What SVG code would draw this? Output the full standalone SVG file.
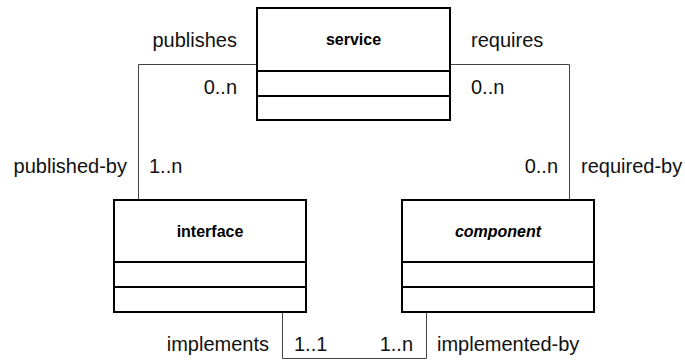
<svg xmlns="http://www.w3.org/2000/svg" width="685" height="360" viewBox="0 0 685 360">
  <style>
    .box { fill: #ffffff; stroke: #000000; stroke-width: 2; }
    .div { stroke: #000000; stroke-width: 2; }
    .conn { fill: none; stroke: #444444; stroke-width: 1; }
    .name { font-family: "Liberation Sans", Arial, sans-serif; font-size: 16px; font-weight: bold; fill: #000000; text-anchor: middle; }
    .label { font-family: "Liberation Sans", Arial, sans-serif; font-size: 20px; fill: #111111; }
    .end { text-anchor: end; }
  </style>

  <!-- associations between the classes -->
  <g id="connectors">
    <polyline class="conn" points="257,64.5 138.5,64.5 138.5,200"/>
    <polyline class="conn" points="450,64.5 569.5,64.5 569.5,200"/>
    <polyline class="conn" points="282.5,312 282.5,358.5 426.5,358.5 426.5,312"/>
  </g>

  <g id="service">
    <rect class="box" x="257" y="8" width="193" height="112"/>
    <line class="div" x1="257" y1="71" x2="450" y2="71"/>
    <line class="div" x1="257" y1="96" x2="450" y2="96"/>
    <text class="name" x="353.5" y="45">service</text>
  </g>

  <g id="interface">
    <rect class="box" x="114" y="200" width="192" height="112"/>
    <line class="div" x1="114" y1="262" x2="306" y2="262"/>
    <line class="div" x1="114" y1="287" x2="306" y2="287"/>
    <text class="name" x="210" y="237">interface</text>
  </g>

  <g id="component">
    <rect class="box" x="402" y="200" width="192" height="112"/>
    <line class="div" x1="402" y1="262" x2="594" y2="262"/>
    <line class="div" x1="402" y1="287" x2="594" y2="287"/>
    <text class="name" x="498" y="237" font-style="italic">component</text>
  </g>

  <!-- role names and multiplicities -->
  <g id="labels">
    <text class="label end" x="237" y="47">publishes</text>
    <text class="label end" x="237" y="94">0..n</text>
    <text class="label" x="471" y="47">requires</text>
    <text class="label" x="471" y="94">0..n</text>
    <text class="label end" x="127" y="173">published-by</text>
    <text class="label" x="149" y="173">1..n</text>
    <text class="label end" x="558" y="173">0..n</text>
    <text class="label" x="581" y="173">required-by</text>
    <text class="label end" x="269" y="351">implements</text>
    <text class="label" x="294" y="351">1..1</text>
    <text class="label end" x="413" y="351">1..n</text>
    <text class="label" x="437" y="351">implemented-by</text>
  </g>
</svg>
